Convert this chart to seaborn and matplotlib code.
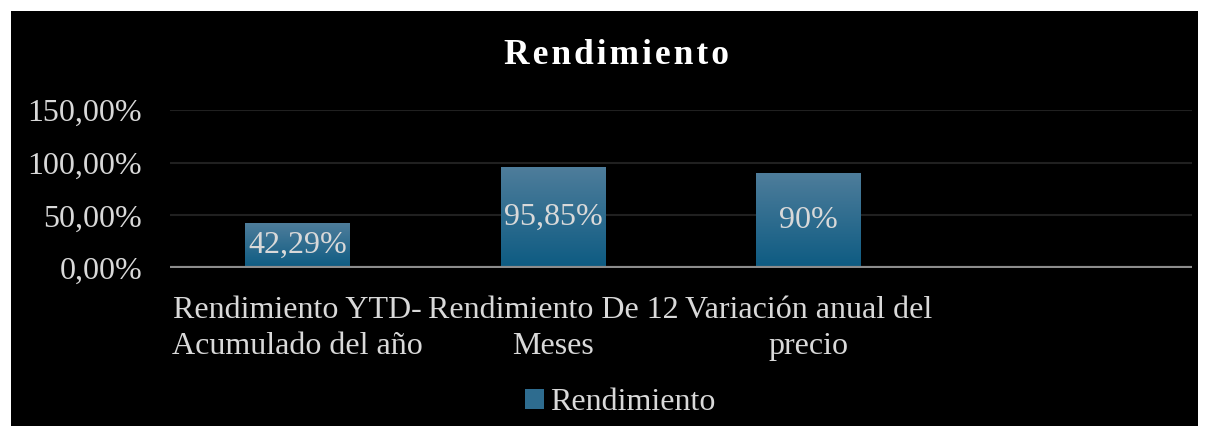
import matplotlib
matplotlib.use("Agg")
import matplotlib.pyplot as plt
import matplotlib.patches as mpatches
import numpy as np
import pandas as pd
import seaborn as sns

# data
categories = ["Rendimiento YTD-\nAcumulado del año", "Rendimiento De 12\nMeses",
              "Variación anual del\nprecio", ""]
values = [42.29, 95.85, 90.0]
value_labels = ["42,29%", "95,85%", "90%"]
y_ticks = [0, 50, 100, 150]
series_name = "Rendimiento"

sns.set_style("dark")
plt.rcParams["font.family"] = ["Liberation Serif", "DejaVu Serif"]

txt = "#d9d9d9"
bar_top = np.array([0x4e, 0x7d, 0x9b]) / 255
bar_bot = np.array([0x0d, 0x5b, 0x82]) / 255

fig = plt.figure(figsize=(12.09, 4.37), dpi=100)
fig.patch.set_facecolor("white")
fig.add_artist(mpatches.Rectangle((11 / 1209, 11 / 437), 1187 / 1209, 415 / 437,
                                  transform=fig.transFigure, facecolor="black",
                                  edgecolor="none", zorder=0))

ax = fig.add_axes([170 / 1209, 1 - 268 / 437, 1022 / 1209, 158 / 437])
ax.set_facecolor("none")

df = pd.DataFrame({"cat": categories[:len(values)], "val": values})
sns.barplot(data=df, x="cat", y="val", order=categories, color=tuple(bar_bot),
            width=0.41, saturation=1, ax=ax, zorder=3, linewidth=0,
            edgecolor="none")

# vertical gradient on each bar
grad = np.linspace(0, 1, 100)[:, None, None]
img = bar_bot * (1 - grad) + bar_top * grad
for p in ax.patches:
    x0, y0 = p.get_x(), p.get_y()
    w, h = p.get_width(), p.get_height()
    if np.isnan(h) or h == 0:
        continue
    ax.imshow(img, extent=[x0, x0 + w, y0, y0 + h], origin="lower",
              aspect="auto", zorder=4)

for i, (v, lab) in enumerate(zip(values, value_labels)):
    ax.text(i, v / 2, lab, ha="center", va="center", color=txt,
            fontsize=23, zorder=5)

ax.set_xlim(-0.5, len(categories) - 0.5)
ax.set_ylim(0, 150)
ax.set_yticks(y_ticks)
ax.set_yticklabels([f"{t:.2f}%".replace(".", ",") for t in y_ticks])
ax.tick_params(axis="both", length=0, colors=txt, labelsize=23)
ax.tick_params(axis="y", pad=20)
ax.tick_params(axis="x", pad=20)
for lab in ax.get_xticklabels():
    lab.set_linespacing(1.35)
ax.set_xlabel("")
ax.set_ylabel("")
ax.grid(False)
for t in y_ticks[1:]:
    ax.axhline(t, color="#202020", lw=1.5, zorder=1)
ax.axhline(0, color="#8c8c8c", lw=3, zorder=6)
for s in ax.spines.values():
    s.set_visible(False)

fig.text(0.51, 1 - 55 / 437, "\u200a".join("Rendimiento"),
         ha="center", va="center", color="white", fontsize=25.5, fontweight="bold")

handle = mpatches.Patch(facecolor=tuple((bar_top + bar_bot) / 2), edgecolor="none",
                        label=series_name)
leg = fig.legend(handles=[handle], loc="center", bbox_to_anchor=(0.513, 1 - 403 / 437),
                 frameon=False, fontsize=23, handlelength=0.6, handleheight=0.6,
                 handletextpad=0.2, labelcolor=txt)

fig.savefig("out.png", dpi=100, facecolor=fig.get_facecolor())
